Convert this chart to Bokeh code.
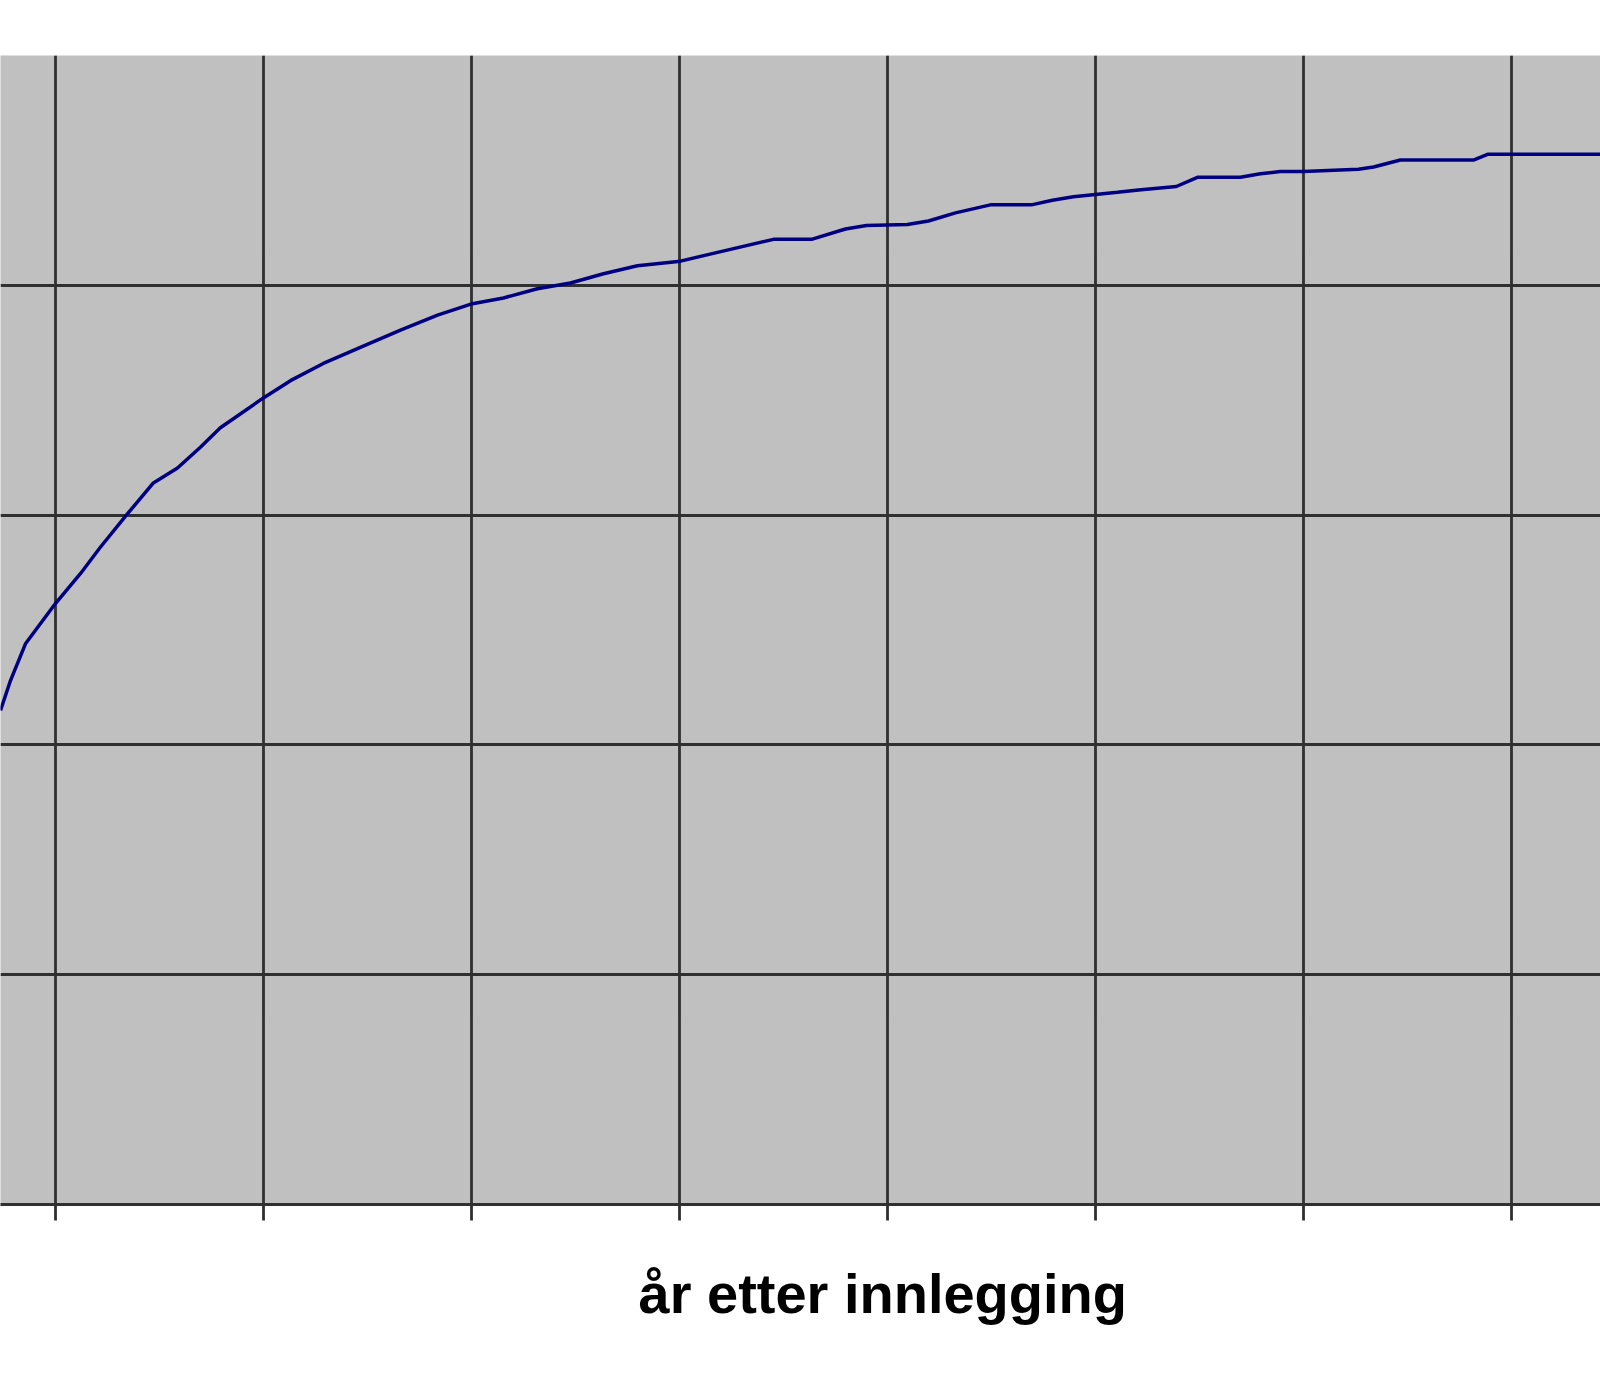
from bokeh.plotting import figure
from bokeh.models import Range1d, FixedTicker, Grid, Title, ColumnDataSource
from bokeh.embed import file_html
from bokeh.resources import INLINE

# Data (x: years after admission, y: cumulative %)
years = [0.736, 0.784, 0.856, 1.000, 1.120, 1.216, 1.346, 1.471, 1.587, 1.697,
         1.793, 2.000, 2.130, 2.288, 2.466, 2.659, 2.837, 3.005, 3.154, 3.317,
         3.476, 3.635, 3.798, 4.005, 4.168, 4.452, 4.635, 4.798, 4.899, 5.096,
         5.197, 5.327, 5.495, 5.692, 5.793, 5.894, 6.000, 6.106, 6.207, 6.389,
         6.490, 6.697, 6.793, 6.889, 7.000, 7.264, 7.337, 7.466, 7.817, 7.885,
         8.428]
values = [43.0, 45.6, 48.8, 52.3, 54.9, 57.2, 60.1, 62.8, 64.1, 65.9,
          67.6, 70.2, 71.7, 73.2, 74.6, 76.1, 77.4, 78.4, 78.9, 79.7,
          80.2, 81.0, 81.7, 82.1, 82.8, 84.0, 84.0, 84.9, 85.2, 85.3,
          85.6, 86.3, 87.0, 87.0, 87.4, 87.7, 87.9, 88.1, 88.3, 88.6,
          89.4, 89.4, 89.7, 89.9, 89.9, 90.1, 90.3, 90.9, 90.9, 91.4,
          91.4]
x_ticks = [1, 2, 3, 4, 5, 6, 7, 8]
y_ticks = [0, 20, 40, 60, 80, 100]
x_label = "år etter innlegging"

p = figure(width=1600, height=1376, output_backend="svg", toolbar_location=None,
           x_range=Range1d(0.736, 8.428), y_range=Range1d(0, 100),
           y_axis_location=None, x_axis_location="below",
           min_border_left=0, min_border_right=0,
           min_border_top=55, min_border_bottom=172)
p.background_fill_color = "#C0C0C0"
p.border_fill_color = "white"
p.outline_line_color = None

p.xgrid.visible = False
p.ygrid.visible = False
grid_color = "#303030"
p.add_layout(Grid(dimension=0, ticker=FixedTicker(ticks=x_ticks),
                  grid_line_color=grid_color, grid_line_width=2.8))
p.add_layout(Grid(dimension=1, ticker=FixedTicker(ticks=y_ticks),
                  grid_line_color=grid_color, grid_line_width=2.8))

ax = p.xaxis[0]
ax.ticker = FixedTicker(ticks=x_ticks)
ax.major_label_overrides = {t: "" for t in x_ticks}
ax.major_label_text_font_size = "1px"
ax.axis_line_color = grid_color
ax.axis_line_width = 3.2
ax.major_tick_line_color = grid_color
ax.major_tick_line_width = 2.8
ax.major_tick_out = 16
ax.major_tick_in = 0
ax.minor_tick_line_color = None

src = ColumnDataSource(data=dict(x=years, y=values))
p.line("x", "y", source=src, line_color="#000080", line_width=3.5)

t = Title(text=x_label, align="left", offset=638, standoff=78,
          text_font="Liberation Sans", text_font_size="56px",
          text_font_style="bold", text_color="black")
p.add_layout(t, "below")

open("out.html", "w").write(file_html(p, INLINE))
